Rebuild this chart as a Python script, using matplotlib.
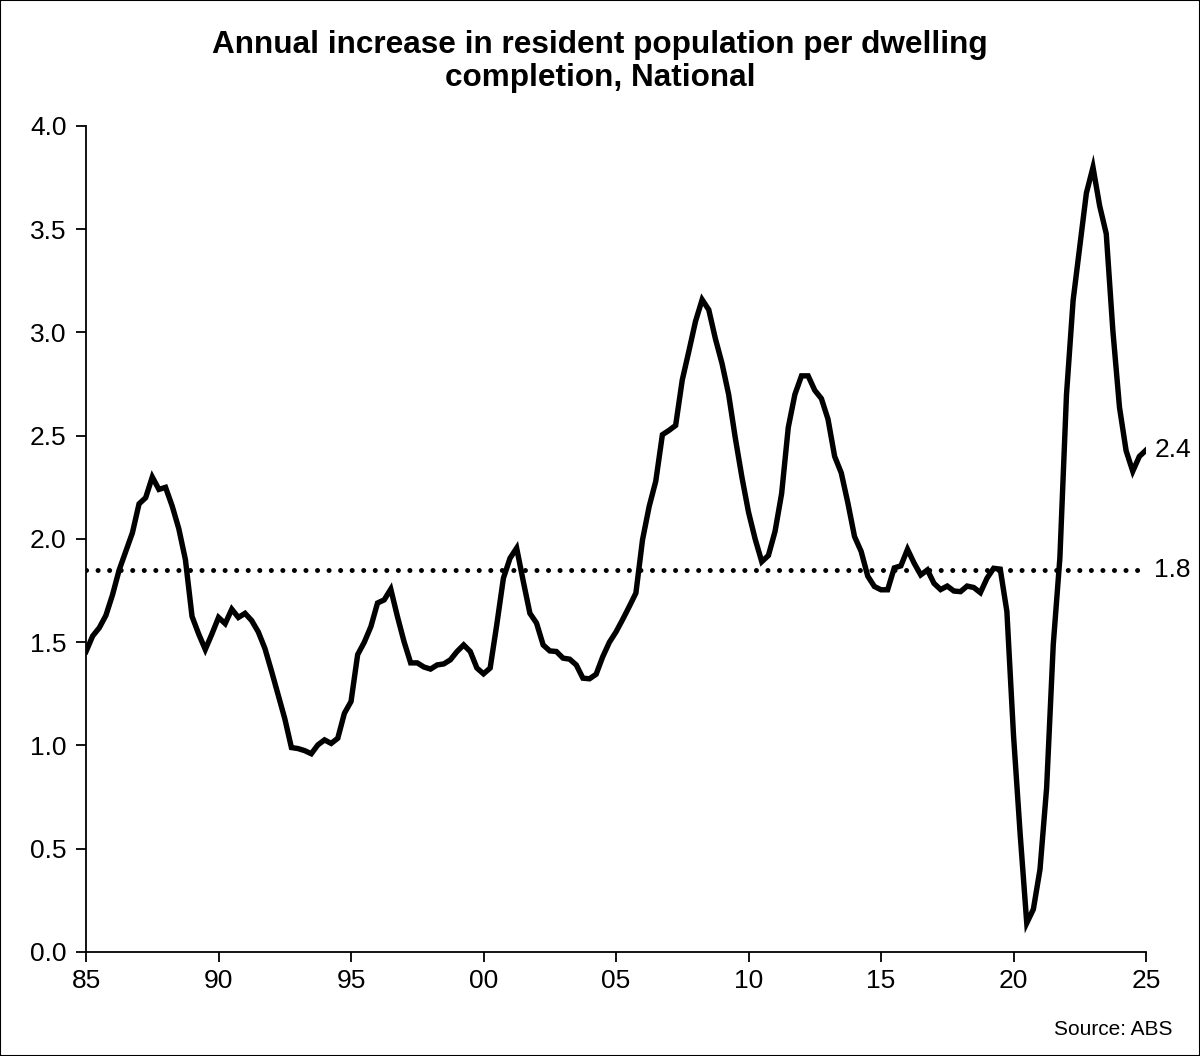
import matplotlib
matplotlib.use("Agg")
import matplotlib.pyplot as plt
import numpy as np

plt.rcParams['font.family'] = ['Liberation Sans', 'DejaVu Sans']

start_year = 1985.0
values = [
    1.455, 1.53, 1.57, 1.63,      # 1985
    1.73, 1.85, 1.94, 2.03,       # 1986
    2.17, 2.20, 2.30, 2.24,       # 1987
    2.25, 2.16, 2.05, 1.90,       # 1988
    1.625, 1.54, 1.465, 1.54,     # 1989
    1.62, 1.59, 1.66, 1.62,       # 1990
    1.64, 1.605, 1.55, 1.47,      # 1991
    1.36, 1.245, 1.13, 0.99,      # 1992
    0.985, 0.975, 0.96, 1.003,    # 1993
    1.027, 1.01, 1.035, 1.156,    # 1994
    1.213, 1.44, 1.50, 1.576,     # 1995
    1.69, 1.705, 1.757, 1.625,    # 1996
    1.503, 1.40, 1.40, 1.38,      # 1997
    1.37, 1.39, 1.395, 1.415,     # 1998
    1.455, 1.487, 1.455, 1.375,   # 1999
    1.347, 1.375, 1.585, 1.81,    # 2000
    1.907, 1.956, 1.795, 1.64,    # 2001
    1.593, 1.487, 1.458, 1.455,   # 2002
    1.423, 1.418, 1.39, 1.326,    # 2003
    1.323, 1.345, 1.43, 1.50,     # 2004
    1.55, 1.61, 1.673, 1.738,     # 2005
    1.996, 2.157, 2.28, 2.505,    # 2006
    2.526, 2.55, 2.77, 2.91,      # 2007
    3.054, 3.159, 3.11, 2.97,     # 2008
    2.85, 2.70, 2.49, 2.30,       # 2009
    2.13, 2.00, 1.89, 1.92,       # 2010
    2.036, 2.22, 2.54, 2.70,      # 2011
    2.79, 2.79, 2.72, 2.68,       # 2012
    2.58, 2.40, 2.32, 2.174,      # 2013
    2.012, 1.94, 1.82, 1.77,      # 2014
    1.754, 1.754, 1.86, 1.87,     # 2015
    1.95, 1.883, 1.826, 1.85,     # 2016
    1.785, 1.755, 1.772, 1.748,   # 2017
    1.745, 1.772, 1.765, 1.74,    # 2018
    1.81, 1.858, 1.854, 1.649,    # 2019
    1.05, 0.573, 0.14, 0.207,     # 2020
    0.40, 0.795, 1.488, 1.908,    # 2021
    2.70, 3.156, 3.416, 3.675,    # 2022
    3.80, 3.614, 3.478, 3.008,    # 2023
    2.637, 2.427, 2.328, 2.40,    # 2024
    2.43,                         # 2025
]
average_value = 1.85
average_label = "1.8"
last_label = "2.4"

x_ticks = [1985, 1990, 1995, 2000, 2005, 2010, 2015, 2020, 2025]
x_tick_labels = ["85", "90", "95", "00", "05", "10", "15", "20", "25"]
y_ticks = [0.0, 0.5, 1.0, 1.5, 2.0, 2.5, 3.0, 3.5, 4.0]
y_tick_labels = ["0.0", "0.5", "1.0", "1.5", "2.0", "2.5", "3.0", "3.5", "4.0"]

title = "Annual increase in resident population per dwelling\ncompletion, National"
source = "Source: ABS"

dates = start_year + 0.25 * np.arange(len(values))

fig = plt.figure(figsize=(12, 10.56), dpi=100)
ax = fig.add_axes([0.0717, 0.0985, 0.8833, 0.7822])

ax.plot([x_ticks[0], x_ticks[-1]], [average_value, average_value], color='black',
        lw=3.6, linestyle=(0, (0.01, 2.3)), dash_capstyle='round', solid_capstyle='round')
ax.plot(dates, values, color='black', lw=3.9, solid_joinstyle='miter')

ax.set_xlim(x_ticks[0], x_ticks[-1])
ax.set_ylim(0, 4)
ax.set_xticks(x_ticks)
ax.set_xticklabels(x_tick_labels)
ax.set_yticks(y_ticks)
ax.set_yticklabels(y_tick_labels)
ax.tick_params(axis='both', direction='out', length=7, width=1.3, labelsize=19, colors='black')
ax.tick_params(axis='x', pad=5)
ax.tick_params(axis='y', pad=7)
for s in ['top', 'right']:
    ax.spines[s].set_visible(False)
for s in ['left', 'bottom']:
    ax.spines[s].set_linewidth(1.3)

ax.annotate(average_label, xy=(x_ticks[-1], average_value), xytext=(6, 0),
            textcoords='offset points', va='center', ha='left', fontsize=19, annotation_clip=False)
ax.annotate(last_label, xy=(dates[-1], values[-1]), xytext=(6, 0),
            textcoords='offset points', va='center', ha='left', fontsize=19, annotation_clip=False)

fig.text(0.5, 0.972, title, ha='center', va='top', fontsize=22.7, fontweight='bold',
         linespacing=1.15)
fig.text(0.977, 0.016, source, ha='right', va='bottom', fontsize=15)

fig.patches.append(plt.Rectangle((0, 0), 1, 1, transform=fig.transFigure, fill=False,
                                 edgecolor='black', lw=1.5))

fig.savefig("out.png", dpi=100)
